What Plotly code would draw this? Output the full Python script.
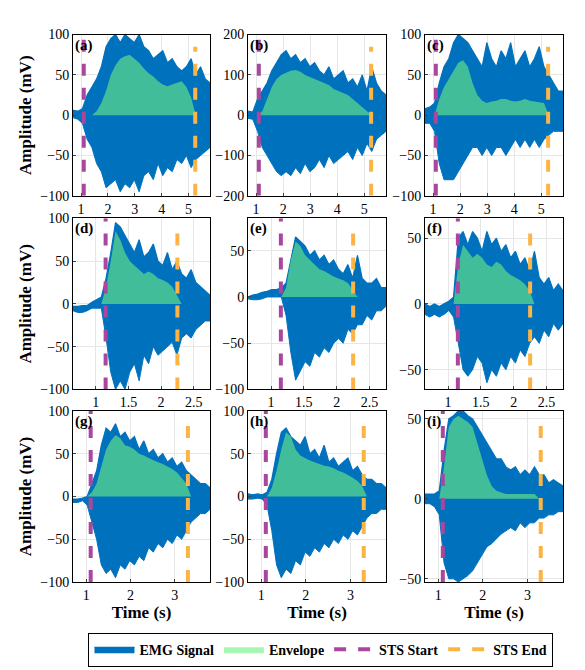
import numpy as np
import plotly.graph_objects as go
from plotly.subplots import make_subplots

labels = ["(a)","(b)","(c)","(d)","(e)","(f)","(g)","(h)","(i)"]
row_xrange = [(0.7,5.8),(0.65,2.75),(0.7,3.8)]
row_ticks = [[1,2,3,4,5],[1,1.5,2,2.5],[1,2,3]]
sts_start = [1.1,1.15,1.1]
sts_end = [5.25,2.25,3.3]
yranges = [(-100,100),(-200,200),(-100,100),(-100,100),(-100,85),(-65,65),(-100,100),(-100,100),(-52,55)]
yticks = [[-100,-50,0,50,100],[-200,-100,0,100,200],[-100,-50,0,50,100],
          [-100,-50,0,50,100],[-100,-50,0,50],[-50,0,50],
          [-100,-50,0,50,100],[-100,-50,0,50,100],[-50,0,50]]

up = [
 [6,5,8,25,35,45,60,85,95,100,90,100,95,90,100,85,80,70,75,80,65,70,60,55,60,70,50,60,45,40],
 [10,8,40,60,80,110,130,150,160,140,150,130,140,120,130,110,100,120,90,100,110,80,90,70,100,60,120,80,60,50],
 [8,10,15,40,60,70,90,100,95,90,80,70,60,90,70,60,80,70,90,60,70,80,60,70,85,60,50,40,30,30],
 [-3,-3,-2,-2,2,5,8,30,60,95,90,80,70,60,75,55,60,70,50,45,60,40,50,35,30,40,25,20,15,10],
 [0,2,3,5,6,8,8,10,15,40,65,60,55,45,50,40,45,35,40,30,25,35,20,45,20,15,15,20,10,10],
 [0,-2,0,-2,0,2,5,50,55,45,55,50,40,55,45,50,40,45,35,40,30,35,25,40,20,15,20,10,15,10],
 [-3,-3,-2,0,15,30,60,80,75,85,70,75,65,70,55,65,50,55,45,50,40,45,35,40,30,25,20,15,15,10],
 [3,2,3,2,5,20,50,75,80,70,65,60,70,50,55,45,60,40,45,35,40,45,30,35,25,20,20,15,15,10],
 [3,3,3,5,30,50,52,55,55,52,50,45,40,35,30,25,25,20,18,20,15,18,15,20,15,15,10,12,10,8],
]
dn = [
 [-3,-5,-10,-30,-40,-60,-70,-90,-85,-80,-95,-85,-90,-80,-95,-75,-70,-80,-60,-75,-65,-70,-55,-60,-50,-65,-55,-50,-45,-40],
 [-8,-10,-40,-80,-100,-120,-140,-150,-140,-150,-130,-145,-120,-140,-130,-110,-130,-100,-120,-110,-100,-90,-110,-80,-100,-70,-90,-60,-50,-40],
 [-10,-10,-20,-60,-80,-80,-80,-70,-60,-50,-40,-40,-50,-40,-50,-40,-40,-50,-40,-30,-40,-30,-40,-30,-40,-30,-25,-20,-20,-20],
 [-8,-10,-10,-8,-5,-5,-5,-40,-80,-100,-90,-100,-80,-70,-90,-60,-70,-50,-60,-55,-50,-45,-60,-40,-35,-40,-30,-25,-20,-20],
 [-2,-3,-3,-2,0,0,0,0,-20,-60,-90,-80,-70,-75,-60,-65,-55,-60,-50,-45,-50,-35,-40,-30,-30,-20,-25,-15,-15,-10],
 [-8,-10,-8,-10,-8,-5,-10,-30,-50,-55,-50,-40,-45,-60,-50,-55,-45,-50,-40,-45,-35,-40,-30,-25,-30,-20,-25,-15,-20,-15],
 [-7,-7,-5,-10,-30,-50,-80,-90,-85,-95,-80,-85,-75,-80,-70,-75,-60,-65,-55,-60,-50,-55,-45,-50,-40,-30,-25,-20,-20,-15],
 [-3,-3,-2,-3,-10,-40,-80,-95,-85,-90,-75,-80,-65,-70,-60,-65,-55,-60,-50,-55,-45,-50,-40,-45,-35,-25,-20,-20,-15,-15],
 [-3,-3,-5,-10,-40,-50,-50,-52,-50,-48,-45,-40,-35,-30,-28,-25,-22,-20,-18,-20,-15,-18,-15,-15,-12,-12,-10,-10,-8,-8],
]
env = [
 [0,0,0,0,0,5,15,30,50,62,70,73,75,70,65,58,52,48,42,38,36,38,40,42,35,22,0,0,0,0],
 [0,0,0,10,40,70,90,100,105,110,112,108,100,95,90,85,80,75,65,60,55,50,40,30,20,10,0,0,0,0],
 [0,0,0,20,35,45,55,65,68,60,40,25,18,15,17,18,20,20,18,17,18,20,18,17,16,15,0,0,0,0],
 [0,0,0,0,0,0,0,20,50,85,75,60,50,45,40,35,38,35,30,28,25,20,10,0,0,0,0,0,0,0],
 [0,0,0,0,0,0,0,0,10,40,60,55,45,40,35,30,28,25,22,20,18,15,8,0,0,0,0,0,0,0],
 [0,0,0,0,0,0,0,30,45,40,35,38,35,30,28,32,30,25,22,20,18,15,10,0,0,0,0,0,0,0],
 [0,0,0,0,5,15,35,55,65,72,68,60,58,55,50,48,45,42,40,38,35,32,28,22,15,0,0,0,0,0],
 [0,0,0,0,0,10,30,55,75,70,55,48,45,42,40,38,36,35,33,30,28,25,22,18,12,0,0,0,0,0],
 [0,0,0,0,20,45,50,52,50,48,45,35,25,15,8,5,4,3,3,3,3,3,3,3,0,0,0,0,0,0],
]

FONT = "Liberation Serif"
BLUE = "#0072BD"
fig = make_subplots(rows=3, cols=3)
W, H = 585, 670
xdom = [(65,202),(240,378),(417,555)]
ydom = [(20,185),(208,383),(405,580)]

for i in range(9):
    r, c = i//3, i%3
    x0, x1 = row_xrange[r]
    t = np.linspace(x0, x1, len(up[i]))
    first = (i == 0)
    # signal drawn as the band between its positive and negative peaks
    fig.add_trace(go.Scatter(x=t, y=dn[i], mode="lines", line=dict(color=BLUE, width=1),
                             showlegend=False, hoverinfo="skip"), row=r+1, col=c+1)
    fig.add_trace(go.Scatter(x=t, y=up[i], mode="lines", line=dict(color=BLUE, width=1.2),
                             fill="tonexty", fillcolor=BLUE,
                             name="<b>EMG Signal</b>", showlegend=first, legendrank=1), row=r+1, col=c+1)
    fig.add_trace(go.Scatter(x=t, y=env[i], mode="lines", line=dict(width=0, color="rgba(0,0,0,0)"),
                             fill="tozeroy", fillcolor="rgba(110,240,130,0.6)",
                             name="<b>Envelope</b>", showlegend=first, legendrank=2), row=r+1, col=c+1)
    ylo, yhi = yranges[i]
    fig.add_trace(go.Scatter(x=[sts_start[r]]*2, y=[ylo, yhi], mode="lines",
                             line=dict(color="#A9479E", width=4, dash="dash"),
                             name="<b>STS Start</b>", showlegend=first, legendrank=3), row=r+1, col=c+1)
    fig.add_trace(go.Scatter(x=[sts_end[r]]*2, y=[ylo, yhi*0.85], mode="lines",
                             line=dict(color="#FDB447", width=4, dash="dash"),
                             name="<b>STS End</b>", showlegend=first, legendrank=4), row=r+1, col=c+1)
    xa = "xaxis" if i == 0 else f"xaxis{i+1}"
    ya = "yaxis" if i == 0 else f"yaxis{i+1}"
    fig.layout[xa].update(domain=[xdom[c][0]/W, xdom[c][1]/W], range=[x0, x1], tickvals=row_ticks[r],
                          showgrid=True, gridcolor="#e6e6e6", showline=True, mirror=True, linecolor="black",
                          ticks="inside", ticklen=3, zeroline=False, tickfont=dict(size=14),
                          title=dict(text="<b>Time (s)</b>" if r == 2 else "", standoff=2))
    fig.layout[ya].update(domain=[1-ydom[r][1]/H, 1-ydom[r][0]/H], range=[ylo, yhi], tickvals=yticks[i],
                          showgrid=True, gridcolor="#e6e6e6", showline=True, mirror=True, linecolor="black",
                          ticks="inside", ticklen=3, zeroline=False, tickfont=dict(size=14),
                          title=dict(text="<b>Amplitude (mV)</b>" if c == 0 else "", standoff=4))
    xr = "x" if i == 0 else f"x{i+1}"
    yr = "y" if i == 0 else f"y{i+1}"
    fig.add_annotation(text=f"<b>{labels[i]}</b>", xref=f"{xr} domain", yref=f"{yr} domain",
                       x=0.0, y=1.0, xanchor="left", yanchor="top", showarrow=False,
                       font=dict(size=15, color="black", family=FONT))

fig.update_layout(width=W, height=H, margin=dict(l=0, r=0, t=0, b=0),
                  plot_bgcolor="white", paper_bgcolor="white",
                  font=dict(family=FONT, size=14, color="black"),
                  legend=dict(orientation="h", x=0.535, xanchor="center", y=0.005, yanchor="bottom",
                              bordercolor="black", borderwidth=1, font=dict(size=14, family=FONT),
                              itemwidth=40, traceorder="normal"))
fig.write_html("out.html")
